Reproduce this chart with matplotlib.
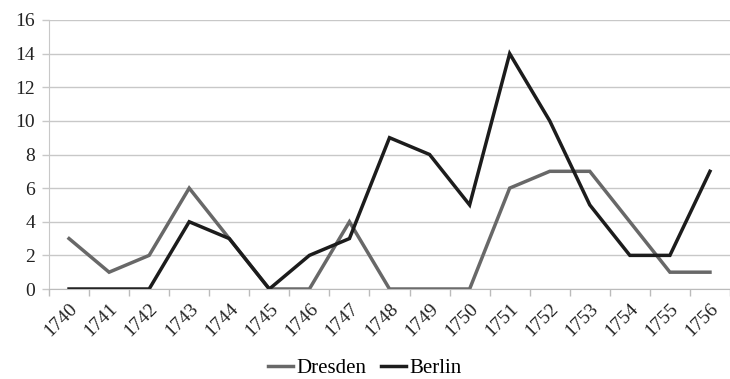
import matplotlib
matplotlib.use("Agg")
import matplotlib.pyplot as plt
import numpy as np

years = [str(y) for y in range(1740, 1757)]
dresden = [3, 1, 2, 6, 3, 0, 0, 4, 0, 0, 0, 6, 7, 7, 4, 1, 1]
berlin = [0, 0, 0, 4, 3, 0, 2, 3, 9, 8, 5, 14, 10, 5, 2, 2, 7]
yticks = [0, 2, 4, 6, 8, 10, 12, 14, 16]

plt.rcParams['font.family'] = ['Liberation Serif', 'DejaVu Serif']

fig = plt.figure(figsize=(7.3, 3.79), dpi=100)
ax = fig.add_axes([49/730, (379-289)/379, 1 - 49/730, (289-20)/379])

x = np.arange(len(years))
ax.plot(x, dresden, color='#686868', lw=2.5, label='Dresden', solid_joinstyle='miter')
ax.plot(x, berlin, color='#1c1c1c', lw=2.5, label='Berlin', solid_joinstyle='miter')

ax.set_xlim(-0.47, len(years) - 1 + 0.37)
ax.set_ylim(0, 16)
ax.set_yticks(yticks)
ax.set_yticklabels([str(v) for v in yticks], fontsize=14, color='#222222')
ax.grid(axis='y', color='#c8c8c8', lw=1)
ax.set_axisbelow(True)

ax.set_xticks(x)
ax.set_xticklabels(years, rotation=45, ha='right', rotation_mode='anchor', fontsize=14, color='#222222')
ax.set_xticks(np.arange(-0.5, len(years) - 0.4, 1), minor=True)
ax.tick_params(axis='x', which='major', length=0, pad=8)
ax.tick_params(axis='x', which='minor', length=5, color='#bbbbbb', width=1)
ax.tick_params(axis='y', length=5, color='#c8c8c8', width=1, pad=5)

for s in ['top', 'right']:
    ax.spines[s].set_visible(False)
ax.spines['left'].set_color('#c8c8c8')
ax.spines['bottom'].set_color('#bbbbbb')

fig.legend(loc='center', bbox_to_anchor=(0.5, 1 - 368/379), ncol=2, frameon=False,
           fontsize=15, handlelength=1.2, handletextpad=0.15, columnspacing=0.7)

fig.savefig('out.png', dpi=100)
